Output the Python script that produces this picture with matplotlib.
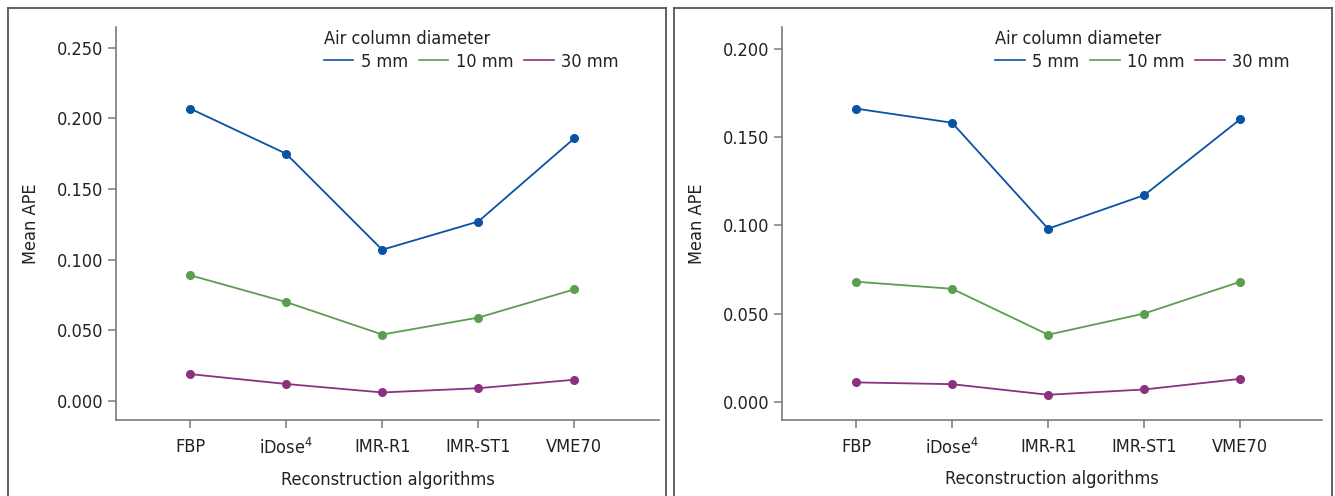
import matplotlib
matplotlib.use("Agg")
import matplotlib.pyplot as plt
from matplotlib.lines import Line2D

categories = ["FBP", "iDose$^{4}$", "IMR-R1", "IMR-ST1", "VME70"]
series_names = ["5 mm", "10 mm", "30 mm"]

left_5mm = [0.207, 0.175, 0.107, 0.127, 0.186]
left_10mm = [0.089, 0.070, 0.047, 0.059, 0.079]
left_30mm = [0.019, 0.012, 0.006, 0.009, 0.015]

right_5mm = [0.166, 0.158, 0.098, 0.117, 0.160]
right_10mm = [0.068, 0.064, 0.038, 0.050, 0.068]
right_30mm = [0.011, 0.010, 0.004, 0.007, 0.013]

left_yticks = [0.0, 0.05, 0.10, 0.15, 0.20, 0.25]
right_yticks = [0.0, 0.05, 0.10, 0.15, 0.20]

colors = ["#0a52a5", "#5b9e4f", "#8a3180"]
text_color = "#222222"
axis_color = "#7a7a7a"

plt.rcParams["font.family"] = ["DejaVu Sans"]
plt.rcParams["font.stretch"] = "condensed"

W, H = 1335, 496
fig = plt.figure(figsize=(W / 100, H / 100), dpi=100)

def frac(x0, x1, ytop, ybot):
    return [x0 / W, 1 - ybot / H, (x1 - x0) / W, (ybot - ytop) / H]

# panel frames
for x0, x1 in [(8, 666), (674, 1332)]:
    fig.add_artist(Line2D([x0 / W, x1 / W], [1 - 8 / H, 1 - 8 / H], color="#555555", lw=1.3))
    fig.add_artist(Line2D([x0 / W, x0 / W], [0, 1 - 8 / H], color="#555555", lw=1.3))
    fig.add_artist(Line2D([x1 / W, x1 / W], [0, 1 - 8 / H], color="#555555", lw=1.3))

panels = [
    (frac(116, 659, 27, 420), [left_5mm, left_10mm, left_30mm], left_yticks, (-0.0135, 0.2647), (-0.77, 4.88), 0.359),
    (frac(782, 1322, 27, 419.5), [right_5mm, right_10mm, right_30mm], right_yticks, (-0.0100, 0.2122), (-0.77, 4.85), 0.371),
]

fs = 13
for rect, data, yticks, ylim, xlim, legx in panels:
    ax = fig.add_axes(rect)
    x = list(range(len(categories)))
    for vals, c, name in zip(data, colors, series_names):
        ax.plot(x, vals, color=c, lw=1.3, marker="o", ms=5.5, label=name)
    ax.set_xlim(*xlim)
    ax.set_ylim(*ylim)
    ax.set_xticks(x)
    ax.set_xticklabels(categories)
    ax.set_yticks(yticks)
    ax.set_yticklabels([f"{v:.3f}" for v in yticks])
    for s in ["top", "right"]:
        ax.spines[s].set_visible(False)
    for s in ["left", "bottom"]:
        ax.spines[s].set_color(axis_color)
        ax.spines[s].set_linewidth(1.2)
    ax.tick_params(axis="both", colors=axis_color, labelcolor=text_color, labelsize=fs,
                   length=6, width=1.1)
    ax.tick_params(axis="x", pad=7)
    ax.tick_params(axis="y", pad=3)
    ax.set_xlabel("Reconstruction algorithms", fontsize=fs, color=text_color, labelpad=9)
    ax.set_ylabel("Mean APE", fontsize=fs, color=text_color, labelpad=12)
    handles = [Line2D([], [], color=c, lw=1.2) for c in colors]
    leg = ax.legend(handles, series_names, title="Air column diameter", ncol=3,
                    frameon=False, fontsize=fs, title_fontsize=fs,
                    loc="upper left", bbox_to_anchor=(legx, 1.025),
                    handlelength=1.65, handletextpad=0.4, columnspacing=0.6,
                    borderpad=0.2, labelspacing=0.2)
    leg._legend_box.align = "left"
    leg._legend_box.sep = 3.5
    for t in leg.get_texts():
        t.set_color(text_color)
    leg.get_title().set_color(text_color)

fig.savefig("out.png", dpi=100)
